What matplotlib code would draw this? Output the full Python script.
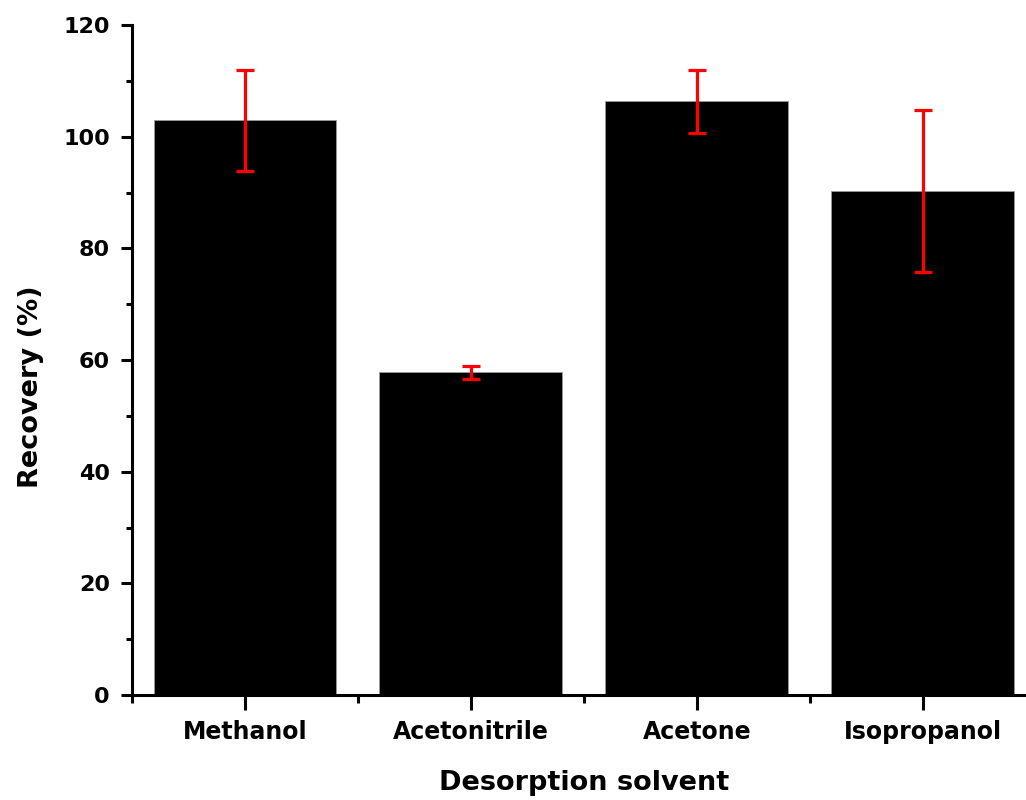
import matplotlib
matplotlib.use("Agg")
import matplotlib.pyplot as plt
from matplotlib.ticker import MultipleLocator, FixedLocator

solvents = ["Methanol", "Acetonitrile", "Acetone", "Isopropanol"]
recovery = [102.9, 57.8, 106.3, 90.3]
recovery_sd = [9.0, 1.2, 5.6, 14.5]

plt.rcParams["font.family"] = "DejaVu Sans"
plt.rcParams["font.weight"] = "bold"

fig = plt.figure(figsize=(10.26, 8.0), dpi=100)
ax = fig.add_axes([0.1287, 0.13125, 0.8806, 0.8375])

x = list(range(1, len(solvents) + 1))
ax.bar(x, recovery, width=0.81, color="black", edgecolor="#9a9a9a", linewidth=0.6, zorder=2)
ax.errorbar(x, recovery, yerr=recovery_sd, fmt="none", ecolor="red",
            elinewidth=2.3, capsize=6.5, capthick=2.3, zorder=3)

ax.set_xlim(0.5, len(solvents) + 0.5)
ax.set_ylim(0, 120)

for side in ("top", "right"):
    ax.spines[side].set_visible(False)
for side in ("left", "bottom"):
    ax.spines[side].set_linewidth(2.2)

ax.set_xticks(x)
ax.set_xticklabels(solvents)
ax.xaxis.set_minor_locator(FixedLocator([i + 0.5 for i in range(0, len(solvents))]))
ax.yaxis.set_major_locator(MultipleLocator(20))
ax.yaxis.set_minor_locator(MultipleLocator(10))

ax.tick_params(axis="x", which="major", direction="out", length=11, width=2.2,
               labelsize=17, pad=7)
ax.tick_params(axis="x", which="minor", direction="out", length=6, width=2.2)
ax.tick_params(axis="y", which="major", direction="out", length=8, width=2.2,
               labelsize=16, pad=8)
ax.tick_params(axis="y", which="minor", direction="out", length=4.5, width=2.2)
for lbl in ax.get_xticklabels() + ax.get_yticklabels():
    lbl.set_fontweight("bold")

ax.set_xlabel("Desorption solvent", fontsize=19.5, fontweight="bold", labelpad=19)
ax.set_ylabel("Recovery (%)", fontsize=19.5, fontweight="bold")
ax.yaxis.set_label_coords(-0.097, 0.46)

fig.savefig("out.png", dpi=100)
